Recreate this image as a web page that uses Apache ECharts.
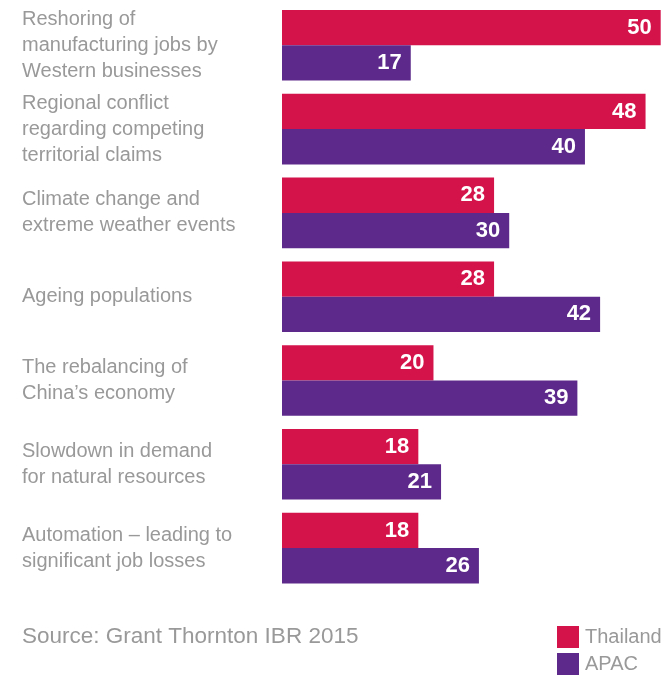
<!DOCTYPE html>
<html>
<head>
<meta charset="utf-8">
<script src="https://cdn.jsdelivr.net/npm/echarts@6/dist/echarts.min.js"></script>
<style>html,body{margin:0;padding:0;background:#fff}#c{width:663px;height:676px}</style>
</head>
<body>
<div id="c"></div>
<script>
const categories = [
  "Reshoring of\nmanufacturing jobs by\nWestern businesses",
  "Regional conflict\nregarding competing\nterritorial claims",
  "Climate change and\nextreme weather events",
  "Ageing populations",
  "The rebalancing of\nChina\u2019s economy",
  "Slowdown in demand\nfor natural resources",
  "Automation \u2013 leading to\nsignificant job losses"
];
const thailand = [50, 48, 28, 28, 20, 18, 18];
const apac = [17, 40, 30, 42, 39, 21, 26];
const seriesNames = ["Thailand", "APAC"];
const sourceText = "Source: Grant Thornton IBR 2015";

const FONT = "'Liberation Sans', sans-serif";
const chart = echarts.init(document.getElementById('c'));
const labelStyle = {
  show: true, position: 'insideRight', distance: 9,
  color: '#fff', fontWeight: 'bold', fontSize: 22, fontFamily: FONT
};
chart.setOption({
  animation: false,
  title: {
    text: sourceText, left: 22, top: 625, padding: 0,
    textStyle: { color: '#999', fontSize: 22.5, fontWeight: 'normal', fontFamily: FONT }
  },
  legend: {
    orient: 'vertical', left: 557, top: 626, padding: 0, itemWidth: 22, itemHeight: 22, itemGap: 5,
    icon: 'rect', data: seriesNames,
    textStyle: { color: '#999', fontSize: 20, fontFamily: FONT, padding: [0, 0, 0, 1] }
  },
  grid: { left: 282, right: 2.3, top: 3.4, bottom: 86 },
  xAxis: { type: 'value', min: 0, max: 50, show: false },
  yAxis: {
    type: 'category', data: categories, inverse: true,
    axisLine: { show: false }, axisTick: { show: false },
    axisLabel: {
      align: 'left', margin: 260, color: '#999', fontSize: 20, lineHeight: 26, fontFamily: FONT
    }
  },
  series: [
    { name: seriesNames[0], type: 'bar', data: thailand, barWidth: 35.3, barGap: '0%',
      itemStyle: { color: '#d4134b' }, label: labelStyle },
    { name: seriesNames[1], type: 'bar', data: apac, barWidth: 35.3, barGap: '0%',
      itemStyle: { color: '#5d2a8b' }, label: labelStyle }
  ]
});
</script>
</body>
</html>
